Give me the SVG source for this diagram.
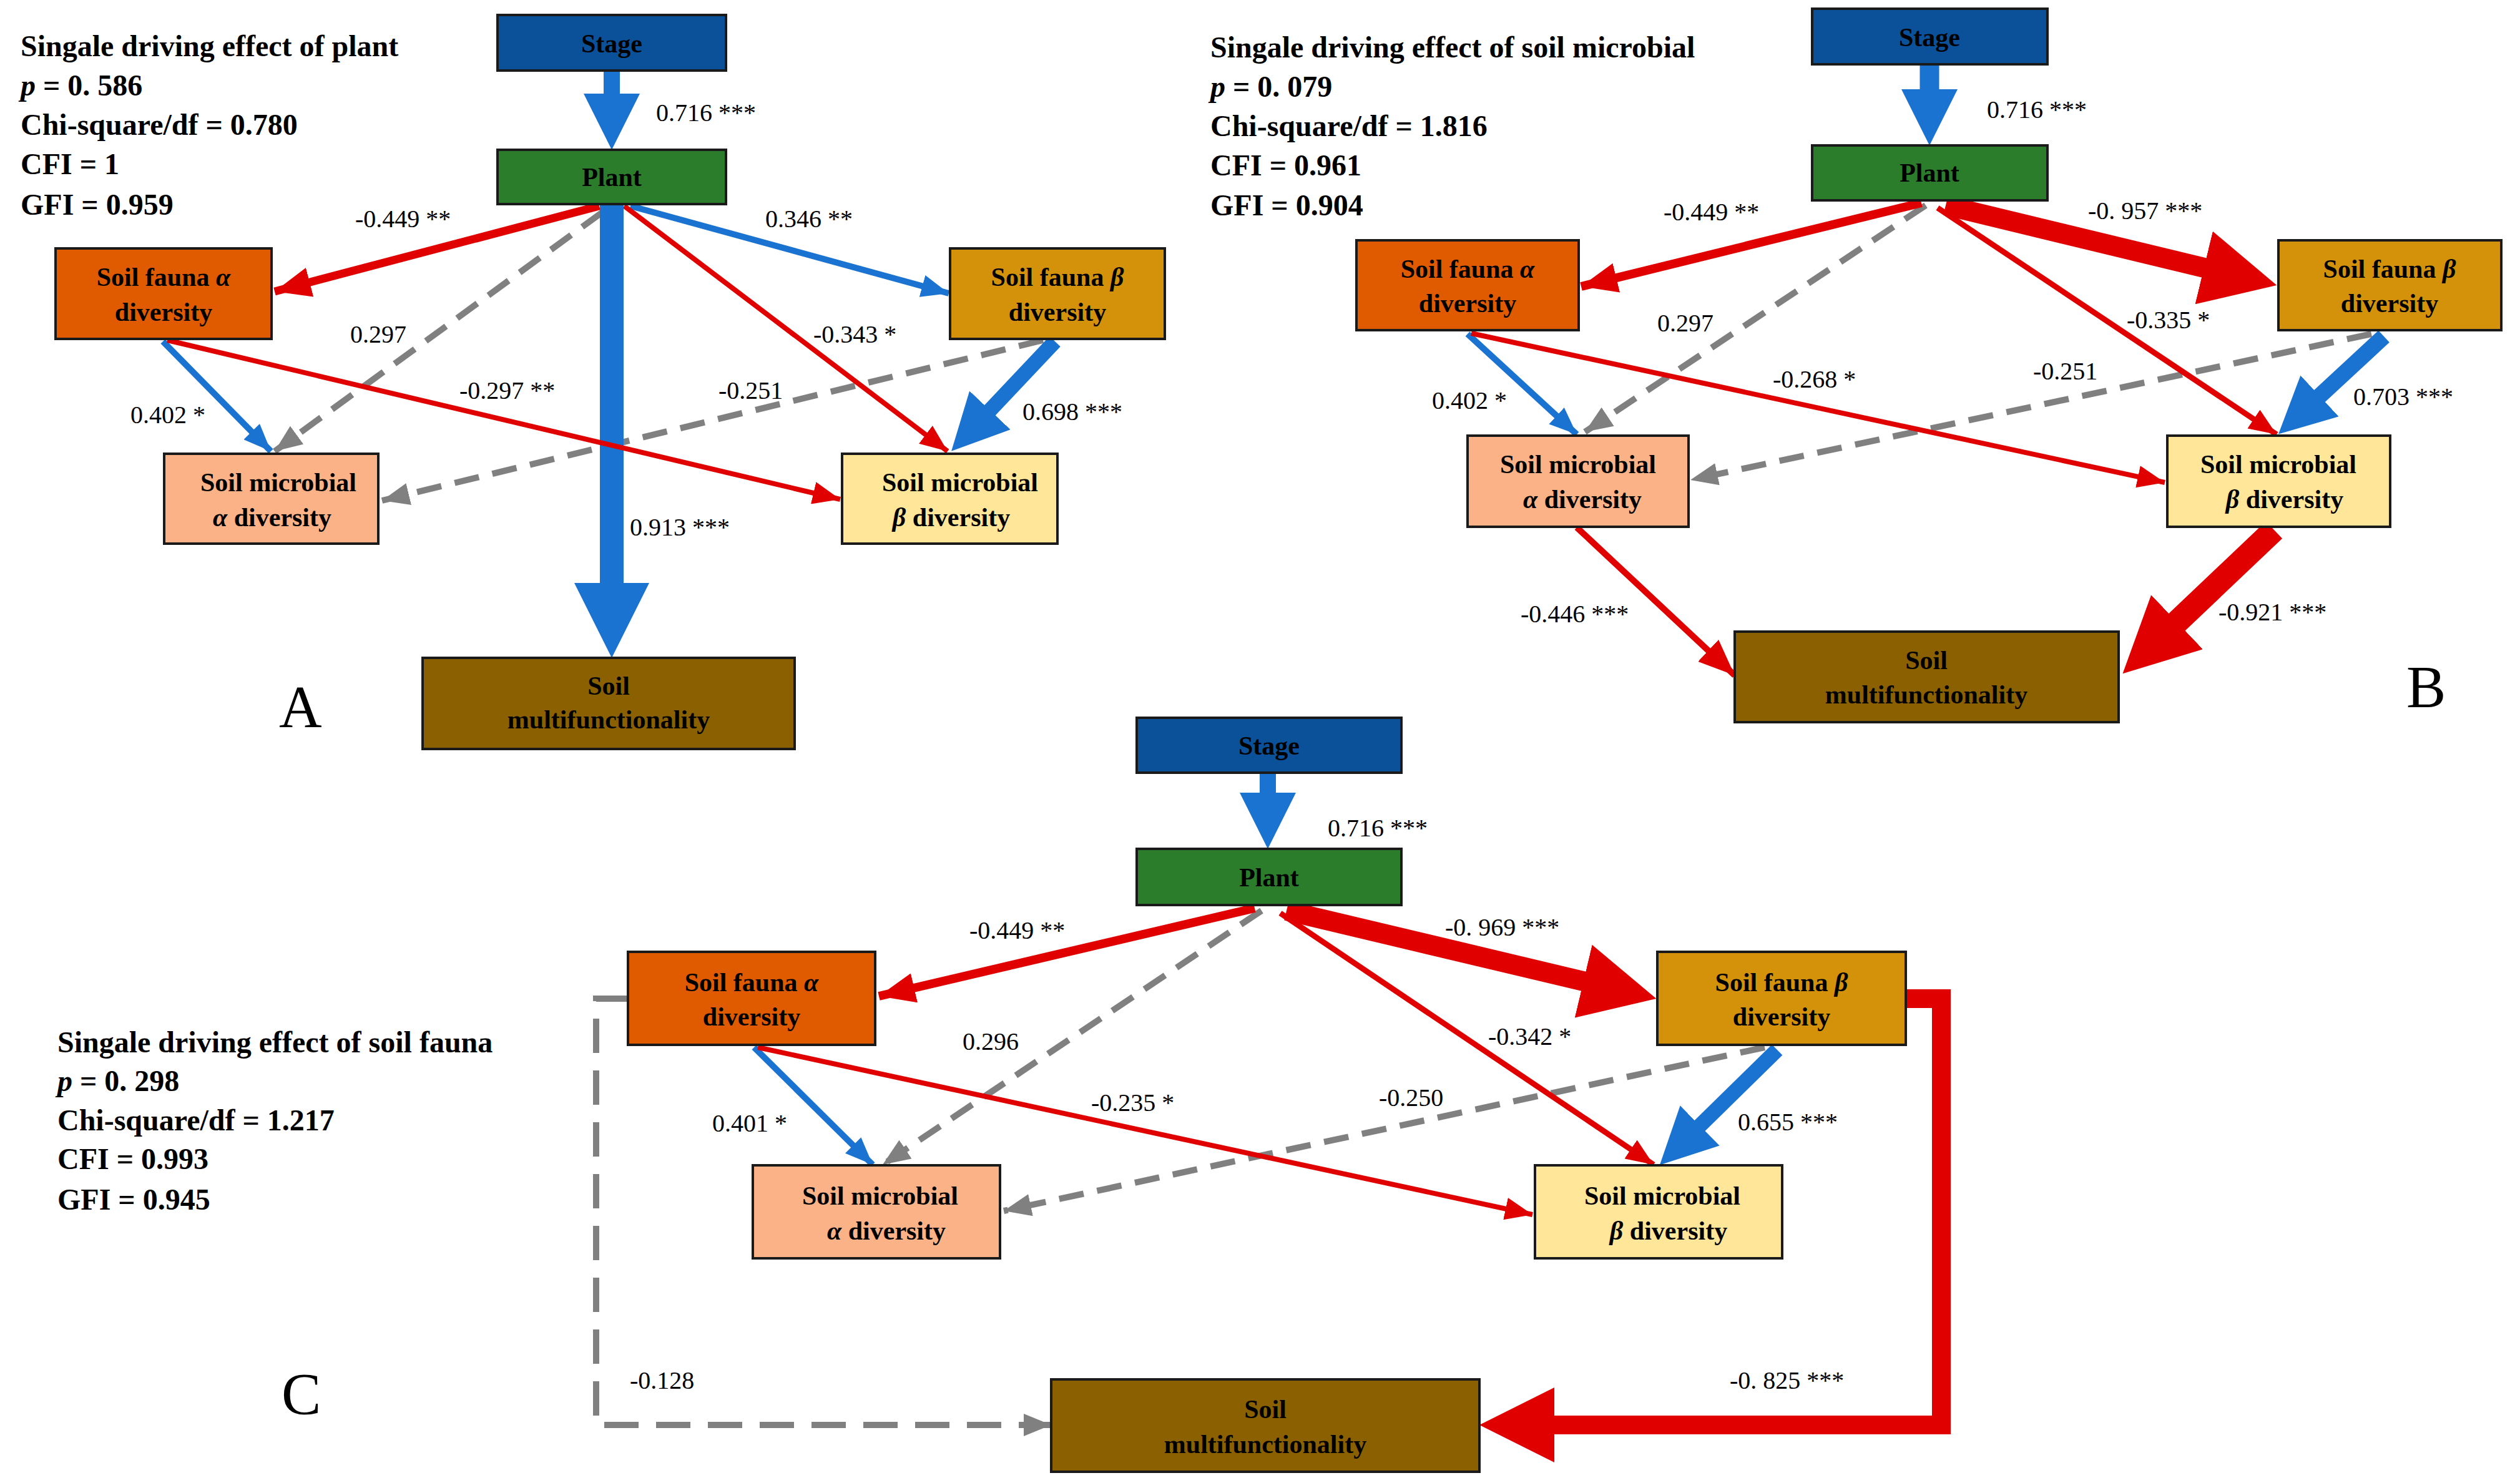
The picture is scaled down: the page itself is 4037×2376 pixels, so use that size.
<svg xmlns="http://www.w3.org/2000/svg" width="4037" height="2376" viewBox="0 0 4037 2376">
<style>
text{font-family:"Liberation Serif","Times New Roman",serif;fill:#000}
.t{font-size:48px;font-weight:bold}
.n{font-size:42px;font-weight:bold;text-anchor:middle}
.l{font-size:40px}
.big{font-size:95px}
.box{stroke:#1a1a1a;stroke-width:4}
.red{stroke:#e00000;fill:none}
.blue{stroke:#1a73d0;fill:none}
.gray{stroke:#808080;fill:none;stroke-dasharray:40 22}
</style>
<defs>
<marker id="sR" markerUnits="userSpaceOnUse" markerWidth="44" markerHeight="36" refX="44" refY="18" orient="auto"><path d="M0,0L44,18L0,36z" fill="#e00000"/></marker>
<marker id="sB" markerUnits="userSpaceOnUse" markerWidth="44" markerHeight="36" refX="44" refY="18" orient="auto"><path d="M0,0L44,18L0,36z" fill="#1a73d0"/></marker>
<marker id="sG" markerUnits="userSpaceOnUse" markerWidth="44" markerHeight="36" refX="44" refY="18" orient="auto"><path d="M0,0L44,18L0,36z" fill="#808080"/></marker>
<marker id="mR" markerUnits="userSpaceOnUse" markerWidth="58" markerHeight="48" refX="58" refY="24" orient="auto"><path d="M0,0L58,24L0,48z" fill="#e00000"/></marker>
<marker id="lB" markerUnits="userSpaceOnUse" markerWidth="90" markerHeight="90" refX="45" refY="45" orient="auto"><path d="M0,0L90,45L0,90z" fill="#1a73d0"/></marker>
<marker id="xB" markerUnits="userSpaceOnUse" markerWidth="120" markerHeight="120" refX="60" refY="60" orient="auto"><path d="M0,0L120,60L0,120z" fill="#1a73d0"/></marker>
<marker id="xR" markerUnits="userSpaceOnUse" markerWidth="120" markerHeight="120" refX="60" refY="60" orient="auto"><path d="M0,0L120,60L0,120z" fill="#e00000"/></marker>
</defs>

<g id="connectors">
<!-- A -->
<line class="blue" x1="980" y1="113" x2="980" y2="195" stroke-width="26" marker-end="url(#lB)"/>
<line class="gray" x1="965" y1="340" x2="440" y2="723" stroke-width="10" marker-end="url(#sG)"/>
<line class="gray" x1="1671" y1="545" x2="612" y2="802" stroke-width="10" marker-end="url(#sG)"/>
<line class="red" x1="960" y1="330" x2="440" y2="467" stroke-width="13" marker-end="url(#mR)"/>
<line class="blue" x1="1010" y1="330" x2="1520" y2="470" stroke-width="10" marker-end="url(#sB)"/>
<line class="red" x1="1000" y1="330" x2="1518" y2="723" stroke-width="8" marker-end="url(#sR)"/>
<line class="blue" x1="261" y1="547" x2="434" y2="723" stroke-width="10" marker-end="url(#sB)"/>
<line class="blue" x1="980" y1="327" x2="980" y2="994" stroke-width="38" marker-end="url(#xB)"/>
<line class="red" x1="268" y1="545" x2="1346" y2="800" stroke-width="8" marker-end="url(#sR)"/>
<line class="blue" x1="1690" y1="547" x2="1555" y2="690" stroke-width="24" marker-end="url(#lB)"/>
<!-- B -->
<line class="blue" x1="3091" y1="103" x2="3091" y2="188" stroke-width="31" marker-end="url(#lB)"/>
<line class="gray" x1="3085" y1="329" x2="2539" y2="692" stroke-width="10" marker-end="url(#sG)"/>
<line class="gray" x1="3799" y1="535" x2="2708" y2="769" stroke-width="10" marker-end="url(#sG)"/>
<line class="red" x1="3078" y1="325" x2="2533" y2="459" stroke-width="14" marker-end="url(#mR)"/>
<line class="red" x1="3117" y1="329" x2="3589" y2="443" stroke-width="32" marker-end="url(#xR)"/>
<line class="red" x1="3104" y1="333" x2="3647" y2="696" stroke-width="9" marker-end="url(#sR)"/>
<line class="blue" x1="2351" y1="535" x2="2526" y2="696" stroke-width="10" marker-end="url(#sB)"/>
<line class="red" x1="2357" y1="534" x2="3468" y2="773" stroke-width="8" marker-end="url(#sR)"/>
<line class="blue" x1="3819" y1="539" x2="3683" y2="665" stroke-width="26" marker-end="url(#lB)"/>
<line class="red" x1="2526" y1="845" x2="2779" y2="1082" stroke-width="10" marker-end="url(#mR)"/>
<line class="red" x1="3643" y1="849" x2="3444" y2="1038" stroke-width="38" marker-end="url(#xR)"/>
<!-- C -->
<line class="blue" x1="2031" y1="1238" x2="2031" y2="1315" stroke-width="26" marker-end="url(#lB)"/>
<line class="gray" x1="2021" y1="1459" x2="1414" y2="1866" stroke-width="10" marker-end="url(#sG)"/>
<line class="gray" x1="2827" y1="1678" x2="1608" y2="1940" stroke-width="10" marker-end="url(#sG)"/>
<line class="red" x1="2010" y1="1455" x2="1408" y2="1596" stroke-width="14" marker-end="url(#mR)"/>
<line class="red" x1="2061" y1="1459" x2="2595" y2="1586" stroke-width="32" marker-end="url(#xR)"/>
<line class="red" x1="2051" y1="1463" x2="2649" y2="1866" stroke-width="9" marker-end="url(#sR)"/>
<line class="blue" x1="1208" y1="1678" x2="1398" y2="1866" stroke-width="10" marker-end="url(#sB)"/>
<line class="red" x1="1214" y1="1678" x2="2455" y2="1946" stroke-width="8" marker-end="url(#sR)"/>
<line class="blue" x1="2847" y1="1682" x2="2691" y2="1835" stroke-width="24" marker-end="url(#lB)"/>
<polyline class="gray" points="1006,1600 955,1600 955,2283 1684,2283" stroke-width="10" style="stroke-dasharray:55 28" marker-end="url(#sG)"/>
<polyline class="red" points="3053,1600 3110,1600 3110,2283 2430,2283" stroke-width="30" marker-end="url(#xR)"/>
</g>

<g id="A">
<g id="A-stage"><rect class="box" x="797" y="24" width="366" height="89" fill="#0a519a"/><text class="n" x="980" y="84">Stage</text></g>
<g id="A-plant"><rect class="box" x="797" y="240" width="366" height="87" fill="#2b7d2b"/><text class="n" x="980" y="298">Plant</text></g>
<g id="A-fa"><rect class="box" x="89" y="398" width="346" height="145" fill="#e05a00"/><text class="n" x="262" y="458">Soil fauna <tspan font-style="italic">α</tspan></text><text class="n" x="262" y="514">diversity</text></g>
<g id="A-fb"><rect class="box" x="1522" y="398" width="344" height="145" fill="#d4920a"/><text class="n" x="1694" y="458">Soil fauna <tspan font-style="italic">β</tspan></text><text class="n" x="1694" y="514">diversity</text></g>
<g id="A-ma"><rect class="box" x="263" y="727" width="343" height="144" fill="#fbb286"/><text class="n" x="446" y="787">Soil microbial</text><text class="n" x="436" y="843"><tspan font-style="italic">α</tspan> diversity</text></g>
<g id="A-mb"><rect class="box" x="1349" y="727" width="345" height="144" fill="#ffe699"/><text class="n" x="1538" y="787">Soil microbial</text><text class="n" x="1524" y="843"><tspan font-style="italic">β</tspan> diversity</text></g>
<g id="A-sm"><rect class="box" x="677" y="1054" width="596" height="146" fill="#8a6000"/><text class="n" x="975" y="1113">Soil</text><text class="n" x="975" y="1167">multifunctionality</text></g>
<text class="t" x="33" y="90">Singale driving effect of plant</text>
<text class="t" x="33" y="153"><tspan font-style="italic">p</tspan> = 0. 586</text>
<text class="t" x="33" y="216">Chi-square/df = 0.780</text>
<text class="t" x="33" y="279">CFI = 1</text>
<text class="t" x="33" y="344">GFI = 0.959</text>
<text class="big" x="447" y="1165">A</text>
<text class="l" x="1051" y="194">0.716 ***</text>
<text class="l" x="569" y="364">-0.449 **</text>
<text class="l" x="1226" y="364">0.346 **</text>
<text class="l" x="561" y="549">0.297</text>
<text class="l" x="736" y="639">-0.297 **</text>
<text class="l" x="1303" y="549">-0.343 *</text>
<text class="l" x="1151" y="639">-0.251</text>
<text class="l" x="209" y="678">0.402 *</text>
<text class="l" x="1638" y="673">0.698 ***</text>
<text class="l" x="1009" y="858">0.913 ***</text>
</g>

<g id="B">
<g id="B-stage"><rect class="box" x="2903" y="14" width="377" height="89" fill="#0a519a"/><text class="n" x="3091" y="74">Stage</text></g>
<g id="B-plant"><rect class="box" x="2903" y="233" width="377" height="88" fill="#2b7d2b"/><text class="n" x="3091" y="291">Plant</text></g>
<g id="B-fa"><rect class="box" x="2173" y="385" width="356" height="144" fill="#e05a00"/><text class="n" x="2351" y="445">Soil fauna <tspan font-style="italic">α</tspan></text><text class="n" x="2351" y="500">diversity</text></g>
<g id="B-fb"><rect class="box" x="3650" y="385" width="357" height="144" fill="#d4920a"/><text class="n" x="3828" y="445">Soil fauna <tspan font-style="italic">β</tspan></text><text class="n" x="3828" y="500">diversity</text></g>
<g id="B-ma"><rect class="box" x="2351" y="698" width="354" height="146" fill="#fbb286"/><text class="n" x="2528" y="758">Soil microbial</text><text class="n" x="2535" y="814"><tspan font-style="italic">α</tspan> diversity</text></g>
<g id="B-mb"><rect class="box" x="3472" y="698" width="357" height="146" fill="#ffe699"/><text class="n" x="3650" y="758">Soil microbial</text><text class="n" x="3660" y="814"><tspan font-style="italic">β</tspan> diversity</text></g>
<g id="B-sm"><rect class="box" x="2779" y="1012" width="615" height="145" fill="#8a6000"/><text class="n" x="3086" y="1072">Soil</text><text class="n" x="3086" y="1127">multifunctionality</text></g>
<text class="t" x="1939" y="92">Singale driving effect of soil microbial</text>
<text class="t" x="1939" y="155"><tspan font-style="italic">p</tspan> = 0. 079</text>
<text class="t" x="1939" y="218">Chi-square/df = 1.816</text>
<text class="t" x="1939" y="281">CFI = 0.961</text>
<text class="t" x="1939" y="345">GFI = 0.904</text>
<text class="big" x="3855" y="1133">B</text>
<text class="l" x="3183" y="189">0.716 ***</text>
<text class="l" x="2665" y="353">-0.449 **</text>
<text class="l" x="3345" y="351">-0. 957 ***</text>
<text class="l" x="2655" y="531">0.297</text>
<text class="l" x="3407" y="526">-0.335 *</text>
<text class="l" x="2840" y="621">-0.268 *</text>
<text class="l" x="3257" y="608">-0.251</text>
<text class="l" x="2294" y="655">0.402 *</text>
<text class="l" x="3770" y="649">0.703 ***</text>
<text class="l" x="2436" y="997">-0.446 ***</text>
<text class="l" x="3554" y="994">-0.921 ***</text>
</g>

<g id="C">
<g id="C-stage"><rect class="box" x="1821" y="1150" width="424" height="88" fill="#0a519a"/><text class="n" x="2033" y="1209">Stage</text></g>
<g id="C-plant"><rect class="box" x="1821" y="1360" width="424" height="90" fill="#2b7d2b"/><text class="n" x="2033" y="1420">Plant</text></g>
<g id="C-fa"><rect class="box" x="1006" y="1525" width="396" height="149" fill="#e05a00"/><text class="n" x="1204" y="1588">Soil fauna <tspan font-style="italic">α</tspan></text><text class="n" x="1204" y="1643">diversity</text></g>
<g id="C-fb"><rect class="box" x="2655" y="1525" width="398" height="149" fill="#d4920a"/><text class="n" x="2854" y="1588">Soil fauna <tspan font-style="italic">β</tspan></text><text class="n" x="2854" y="1643">diversity</text></g>
<g id="C-ma"><rect class="box" x="1206" y="1867" width="396" height="149" fill="#fbb286"/><text class="n" x="1410" y="1930">Soil microbial</text><text class="n" x="1420" y="1986"><tspan font-style="italic">α</tspan> diversity</text></g>
<g id="C-mb"><rect class="box" x="2459" y="1867" width="396" height="149" fill="#ffe699"/><text class="n" x="2663" y="1930">Soil microbial</text><text class="n" x="2673" y="1986"><tspan font-style="italic">β</tspan> diversity</text></g>
<g id="C-sm"><rect class="box" x="1684" y="2210" width="686" height="148" fill="#8a6000"/><text class="n" x="2027" y="2272">Soil</text><text class="n" x="2027" y="2328">multifunctionality</text></g>
<text class="t" x="92" y="1686">Singale driving effect of soil fauna</text>
<text class="t" x="92" y="1748"><tspan font-style="italic">p</tspan> = 0. 298</text>
<text class="t" x="92" y="1811">Chi-square/df = 1.217</text>
<text class="t" x="92" y="1873">CFI = 0.993</text>
<text class="t" x="92" y="1938">GFI = 0.945</text>
<text class="big" x="451" y="2266">C</text>
<text class="l" x="2127" y="1340">0.716 ***</text>
<text class="l" x="1553" y="1504">-0.449 **</text>
<text class="l" x="2315" y="1499">-0. 969 ***</text>
<text class="l" x="1542" y="1682">0.296</text>
<text class="l" x="2384" y="1674">-0.342 *</text>
<text class="l" x="1748" y="1780">-0.235 *</text>
<text class="l" x="2209" y="1772">-0.250</text>
<text class="l" x="1141" y="1813">0.401 *</text>
<text class="l" x="2784" y="1811">0.655 ***</text>
<text class="l" x="1009" y="2225">-0.128</text>
<text class="l" x="2771" y="2225">-0. 825 ***</text>
</g>
</svg>
